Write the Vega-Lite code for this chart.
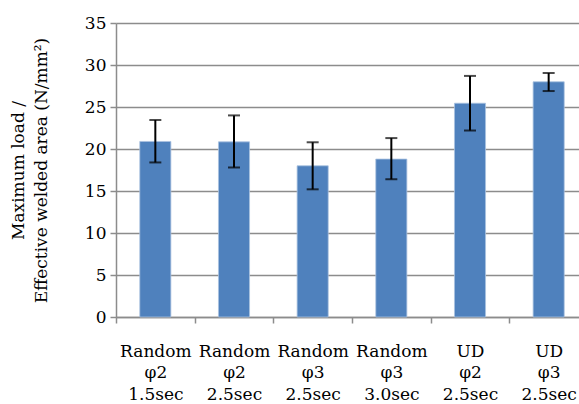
{
  "$schema": "https://vega.github.io/schema/vega-lite/v6.json",
  "width": 463,
  "height": 294,
  "autosize": {"type": "none"},
  "padding": {"left": 116, "top": 23, "right": 0, "bottom": 87},
  "background": "white",
  "config": {
    "view": {"stroke": null},
    "font": "DejaVu Serif",
    "axis": {
      "labelFont": "DejaVu Serif",
      "titleFont": "DejaVu Serif",
      "labelFontSize": 17,
      "titleFontSize": 17,
      "labelColor": "#000000",
      "titleColor": "#000000",
      "titleFontWeight": "normal",
      "domainColor": "#8c8c8c",
      "tickColor": "#8c8c8c",
      "gridColor": "#8c8c8c",
      "domainWidth": 1.5,
      "tickWidth": 1.5,
      "gridWidth": 1.5
    }
  },
  "data": {
    "values": [
      {"label": "Random|φ2|1.5sec", "value": 20.9, "lo": 18.4, "hi": 23.45},
      {"label": "Random|φ2|2.5sec", "value": 20.85, "lo": 17.8, "hi": 24.0},
      {"label": "Random|φ3|2.5sec", "value": 18.0, "lo": 15.2, "hi": 20.8},
      {"label": "Random|φ3|3.0sec", "value": 18.8, "lo": 16.4, "hi": 21.3},
      {"label": "UD|φ2|2.5sec", "value": 25.45, "lo": 22.2, "hi": 28.7},
      {"label": "UD|φ3|2.5sec", "value": 28.0, "lo": 26.9, "hi": 29.05}
    ]
  },
  "encoding": {
    "x": {
      "field": "label",
      "type": "nominal",
      "sort": null,
      "scale": {"range": [0, 472], "paddingInner": 0.605, "paddingOuter": 0.3025},
      "axis": {
        "title": null,
        "labelAngle": 0,
        "labelExpr": "split(datum.label, '|')",
        "labelLineHeight": 21.5,
        "labelPadding": 20,
        "tickOffset": -39.33,
        "labelOffset": 39.33,
        "tickSize": 6,
        "domain": true,
        "grid": false
      }
    }
  },
  "layer": [
    {
      "mark": {"type": "bar", "color": "#4f81bd", "stroke": "#a9c1e0", "strokeWidth": 0.8},
      "encoding": {
        "y": {
          "field": "value",
          "type": "quantitative",
          "scale": {"domain": [0, 35], "nice": false},
          "axis": {
            "values": [0, 5, 10, 15, 20, 25, 30, 35],
            "title": ["Maximum load /", "Effective welded area (N/mm²)"],
            "titleLineHeight": 23,
            "titlePadding": 34,
            "tickSize": 6,
            "labelPadding": 4,
            "grid": true
          }
        }
      }
    },
    {
      "mark": {"type": "rule", "color": "#000000", "strokeWidth": 2},
      "encoding": {
        "y": {"field": "lo", "type": "quantitative"},
        "y2": {"field": "hi"}
      }
    },
    {
      "mark": {"type": "tick", "color": "#000000", "size": 12, "thickness": 2, "orient": "horizontal"},
      "encoding": {"y": {"field": "lo", "type": "quantitative"}}
    },
    {
      "mark": {"type": "tick", "color": "#000000", "size": 12, "thickness": 2, "orient": "horizontal"},
      "encoding": {"y": {"field": "hi", "type": "quantitative"}}
    }
  ]
}
